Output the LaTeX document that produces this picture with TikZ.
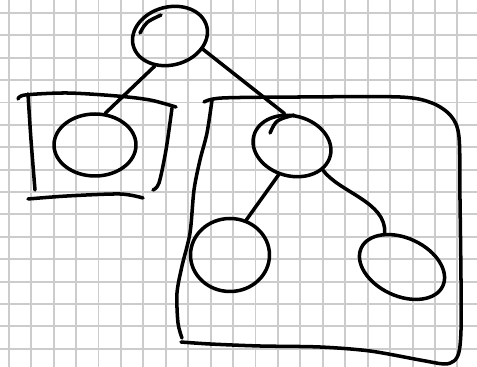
\documentclass[tikz,border=0pt]{standalone}
\usepackage{tikz}
\usetikzlibrary{shapes.geometric}

\begin{document}
\begin{tikzpicture}[x=0.02cm,y=-0.02cm,line cap=round,line join=round,
      gridline/.style={draw=black!20,line width=1.1pt},
      ink/.style={line width=2pt},
      bubble/.style={draw,ellipse,inner sep=0pt,line width=2pt}]
      \useasboundingbox[fill=white] (0,0) rectangle (477,367);
      \foreach \gx in {0,...,21} \draw[gridline] ({8.8+22.43*\gx},0) -- ++(0,367);
      \foreach \gy in {0,...,16} \draw[gridline] (0,{13+22.38*\gy}) -- ++(477,0);
      \node[bubble,minimum width=1.52cm,minimum height=1.16cm,rotate=15] (root) at (170,36) {};
      \node[bubble,minimum width=1.64cm,minimum height=1.24cm] (lc) at (95,145) {};
      \node[bubble,minimum width=1.58cm,minimum height=1.2cm,rotate=-15] (rc) at (292,146) {};
      \node[bubble,minimum width=1.58cm,minimum height=1.46cm] (blc) at (230,255) {};
      \node[bubble,minimum width=1.8cm,minimum height=1.16cm,rotate=-25] (brc) at (402,267) {};
      \draw[ink] (140,33) .. controls (146,22) .. (161,15);
      \draw[ink] (270,133) .. controls (276,120) .. (294,115);
      \draw[ink] (root.228) -- (lc.72);
      \draw[ink] (root.323) -- (rc.118);
      \draw[ink] (rc.260) -- (blc.65);
      \draw[ink] (rc.337) .. controls +(16,22) and +(2,-31) .. (brc.142);
      \draw[ink] plot[smooth] coordinates {(18,99) (25,95) (67,93) (117,96) (150,100) (176,107)};
      \draw[ink] plot[smooth] coordinates {(28,94) (31,140) (35,190)};
      \draw[ink] plot[smooth] coordinates {(172,108) (166,150) (159,183) (153,190)};
      \draw[ink] plot[smooth] coordinates {(28,199) (67,196) (120,194) (143,198)};
      \draw[ink] plot[smooth] coordinates {(204,102) (222,98) (300,97) (400,97) (432,103) (451,116) (459,137) (460,200) (461,280) (461,330) (459,352) (454,361) (444,364) (420,360) (370,351) (320,347) (260,346) (210,344) (181,342)};
      \draw[ink] plot[smooth] coordinates {(212,100) (207,133) (200,160) (194,190) (190,233) (182,266) (177,293) (178,323) (182,338)};
    \end{tikzpicture}
\end{document}
